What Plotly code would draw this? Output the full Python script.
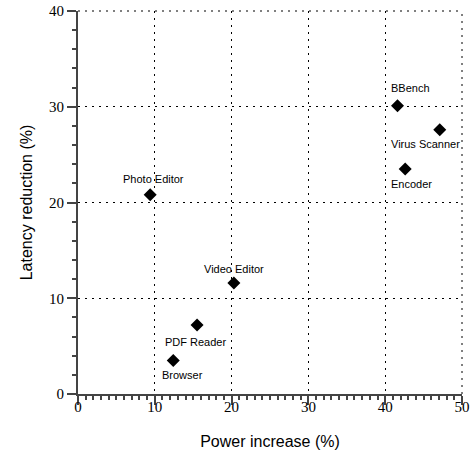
import plotly.graph_objects as go

apps = ["BBench", "Virus Scanner", "Encoder", "Photo Editor", "Video Editor", "PDF Reader", "Browser"]
power_increase = [41.6, 47.1, 42.6, 9.4, 20.3, 15.5, 12.4]
latency_reduction = [30.1, 27.6, 23.5, 20.8, 11.6, 7.2, 3.5]

x_ticks = [0, 10, 20, 30, 40, 50]
y_ticks = [0, 10, 20, 30, 40]

# label offsets in pixels (style)
label_shift = {
    "BBench": (13, 18),
    "Virus Scanner": (-14, -14),
    "Encoder": (6, -15),
    "Photo Editor": (3, 16),
    "Video Editor": (0, 14),
    "PDF Reader": (-2, -17),
    "Browser": (9, -15),
}

GRID_DASH = "2px,5px"

fig = go.Figure()
fig.add_trace(go.Scatter(
    x=power_increase, y=latency_reduction, mode="markers",
    marker=dict(symbol="diamond", size=10, color="black"),
    showlegend=False, cliponaxis=False,
))

for name, xv, yv in zip(apps, power_increase, latency_reduction):
    dx, dy = label_shift[name]
    fig.add_annotation(x=xv, y=yv, text=name, showarrow=False,
                       xshift=dx, yshift=dy,
                       font=dict(family="Liberation Sans, Arial", size=11, color="black"))

# dotted frame on top and right edges (the outermost grid lines)
fig.add_shape(type="line", xref="paper", yref="paper", x0=0, x1=1, y0=1, y1=1,
              line=dict(color="black", width=1, dash=GRID_DASH))
fig.add_shape(type="line", xref="paper", yref="paper", x0=1, x1=1, y0=0, y1=1,
              line=dict(color="black", width=1, dash=GRID_DASH))

axis_common = dict(
    showline=True, linecolor="#444444", linewidth=2,
    showgrid=True, gridcolor="black", griddash=GRID_DASH, gridwidth=1,
    zeroline=False, automargin=False, ticklabeloverflow="allow",
    ticks="outside", ticklen=9, tickwidth=1.8, tickcolor="#444444",
    tickfont=dict(family="Liberation Serif, Times New Roman", size=15, color="black"),
    title_font=dict(family="Liberation Sans, Arial", size=16, color="black"),
)

fig.update_xaxes(
    range=[0, 50], tickvals=x_ticks,
    title_text="Power increase (%)", title_standoff=22,
    ticklabelstandoff=-11,
    minor=dict(ticks="outside", ticklen=4, dtick=1, tickcolor="#444444", tickwidth=1.8, showgrid=False),
    **axis_common,
)
fig.update_yaxes(
    range=[0, 40], tickvals=y_ticks,
    title_text="Latency reduction (%)", title_standoff=12,
    minor=dict(ticks="outside", ticklen=4, dtick=2, tickcolor="#444444", tickwidth=1.8, showgrid=False),
    **axis_common,
)

fig.update_layout(
    width=472, height=453,
    margin=dict(l=77.5, r=10.3, t=10.5, b=58.5),
    plot_bgcolor="white", paper_bgcolor="white",
)

# remove the page's default 8px body margin so the figure fills the window
fig.write_html("out.html", config={"displayModeBar": False},
               post_script="document.body.style.margin='0';document.body.style.overflow='hidden';")
